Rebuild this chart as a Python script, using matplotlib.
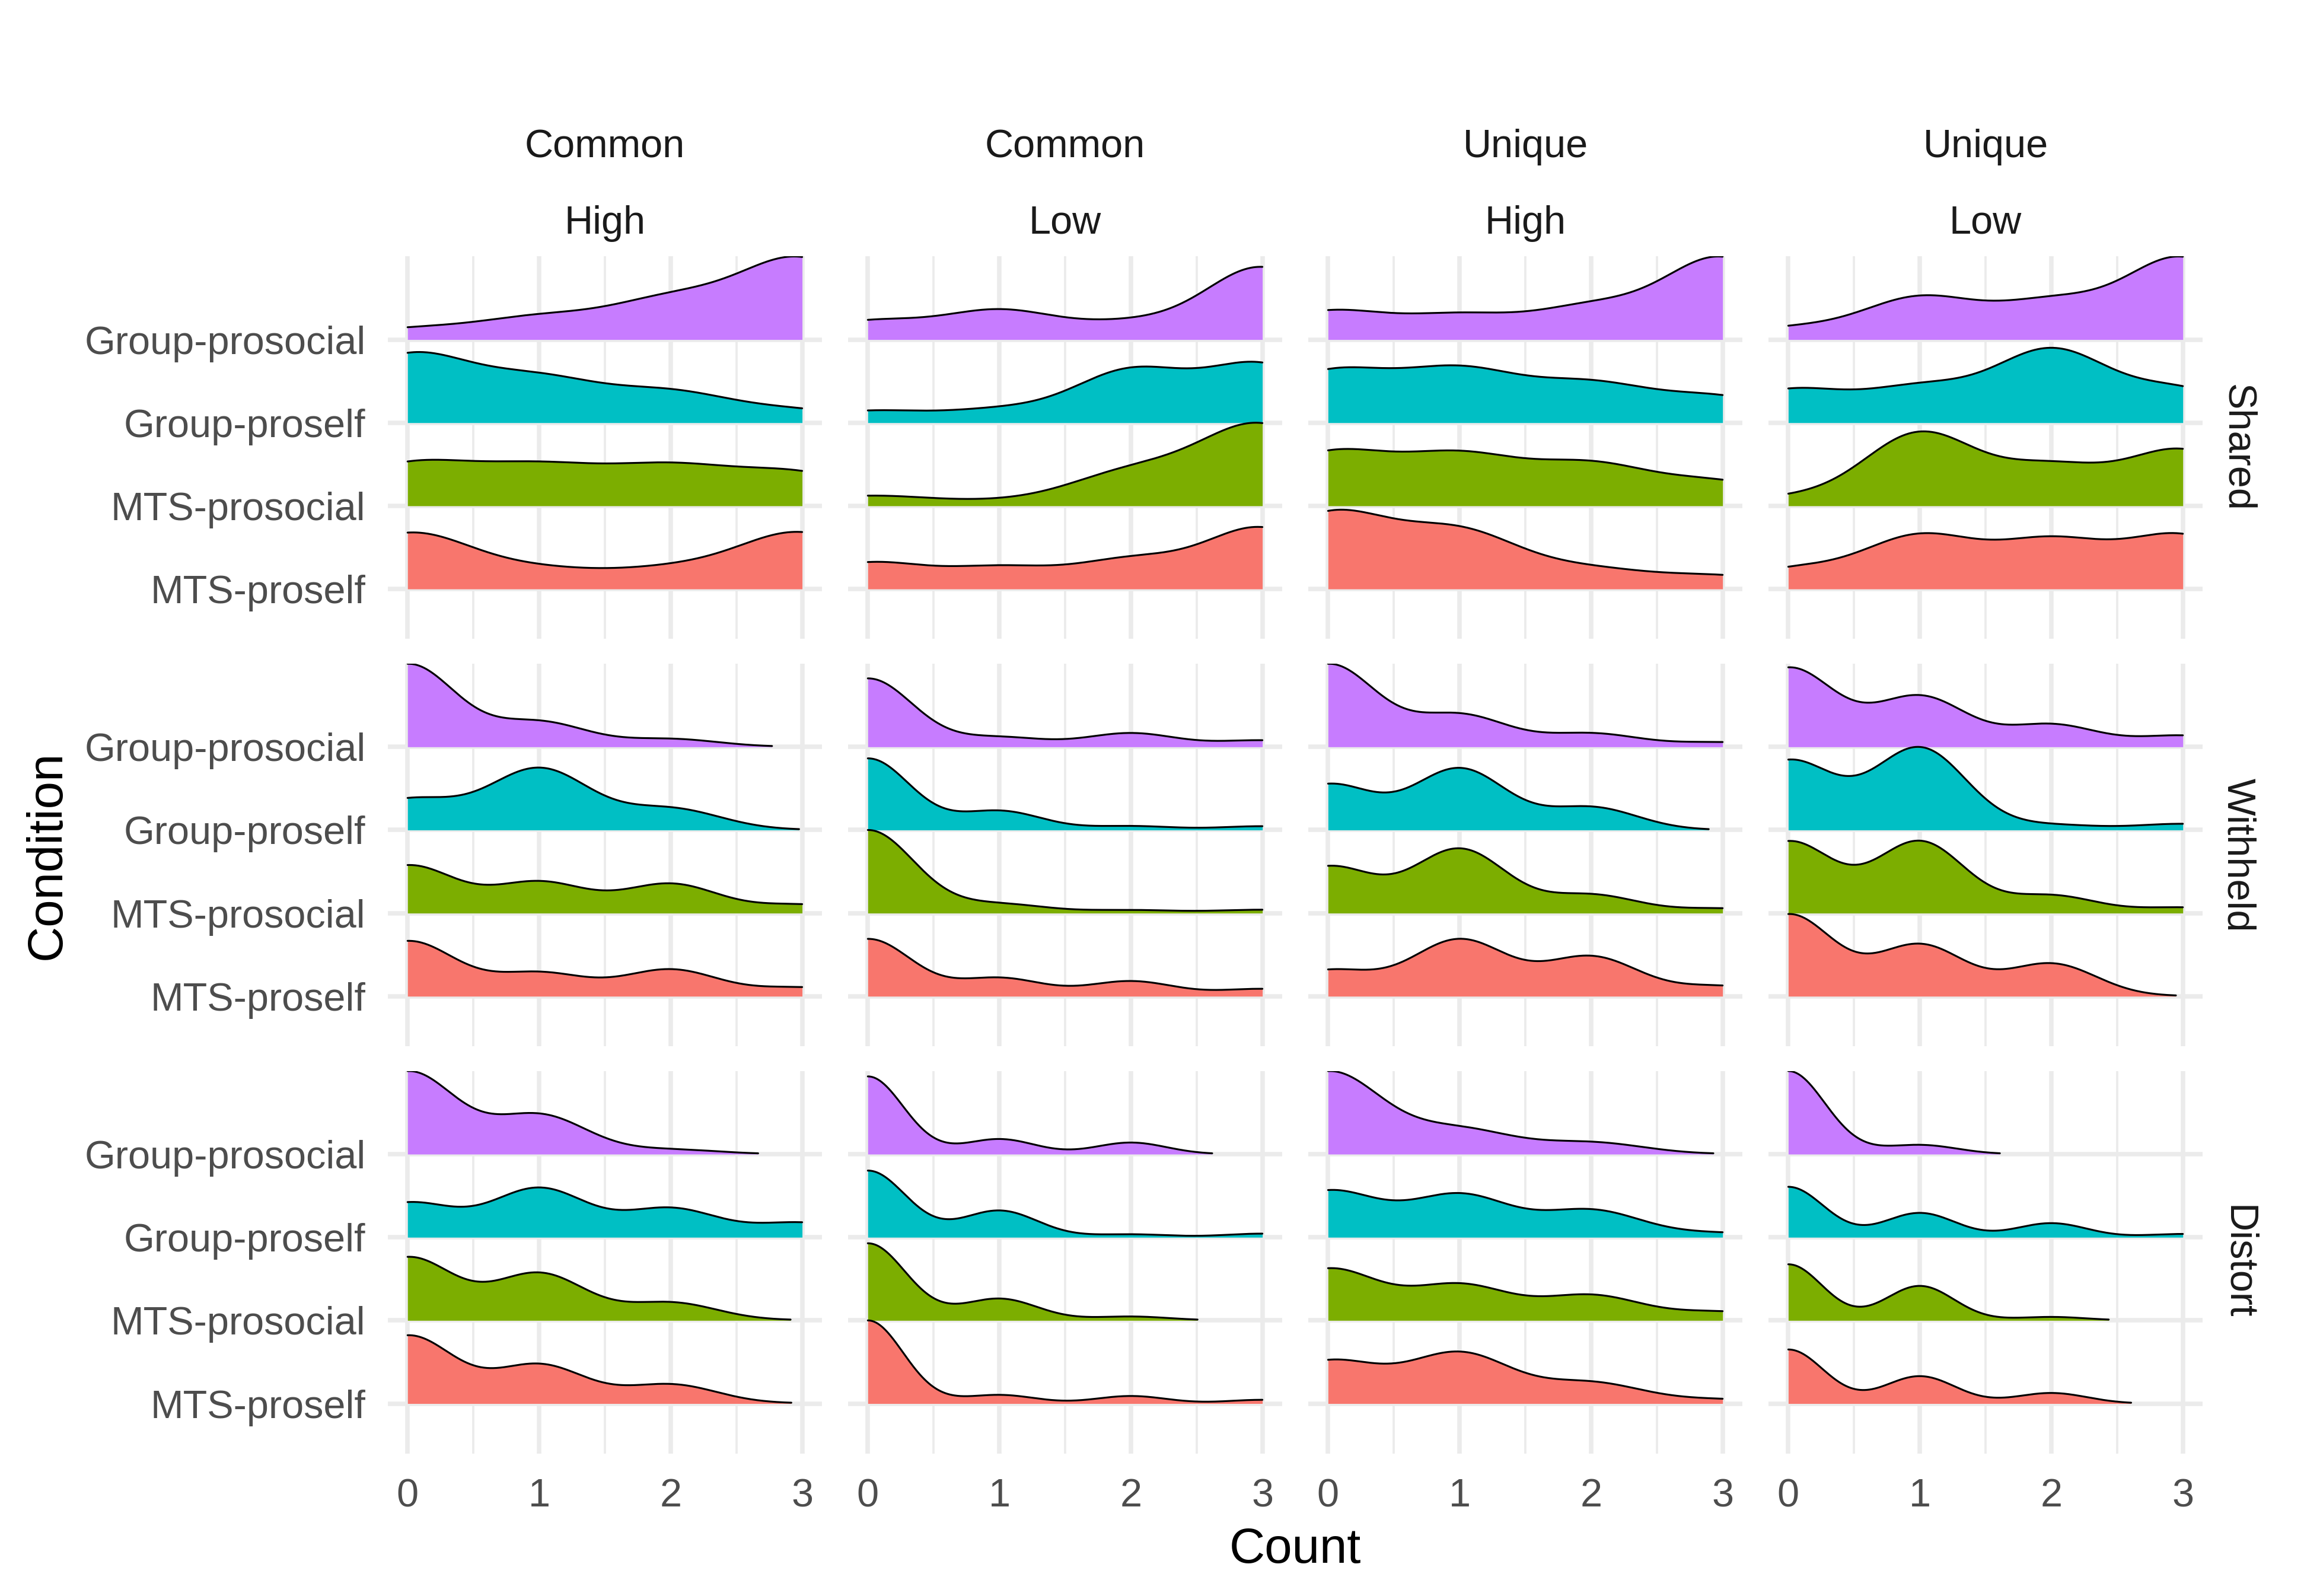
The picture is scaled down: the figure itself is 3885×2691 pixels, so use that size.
#!/usr/bin/env python3
"""
Ridgeline densities of Count by Condition, faceted by Cue/Load (columns)
and Information (rows). Writes out.png.
"""

import numpy as np
import matplotlib

matplotlib.use("Agg")
import matplotlib.pyplot as plt

conditions = ["MTS-proself", "MTS-prosocial", "Group-proself", "Group-prosocial"]
colors = ["#F8766D", "#7CAE00", "#00BFC4", "#C77CFF"]
col_top = ["Common", "Common", "Unique", "Unique"]
col_bottom = ["High", "Low", "High", "Low"]
row_labels = ["Shared", "Withheld", "Distort"]
count_ticks = [0, 1, 2, 3]

# density weight at Count = 0,1,2,3 for each column facet, one row per condition
shared_weights = [
    [[0.652, 0.203, 0.211, 0.658], [0.479, 0.420, 0.422, 0.366],
     [0.787, 0.483, 0.341, 0.137], [0.122, 0.249, 0.446, 0.943]],
    [[0.308, 0.244, 0.333, 0.724], [0.118, 0.045, 0.388, 0.957],
     [0.138, 0.148, 0.611, 0.685], [0.215, 0.341, 0.186, 0.864]],
    [[0.869, 0.647, 0.213, 0.148], [0.608, 0.557, 0.460, 0.268],
     [0.584, 0.586, 0.429, 0.289], [0.331, 0.271, 0.365, 0.960]],
    [[0.225, 0.613, 0.548, 0.624], [0.095, 0.857, 0.447, 0.656],
     [0.383, 0.397, 0.844, 0.381], [0.133, 0.490, 0.425, 0.963]],
]
withheld_weights = [
    [[0.661, 0.277, 0.319, 0.104], [0.571, 0.369, 0.349, 0.101],
     [0.363, 0.732, 0.253, 0.001], [0.994, 0.297, 0.094, 0.001]],
    [[0.697, 0.221, 0.183, 0.089], [1.011, 0.110, 0.037, 0.041],
     [0.871, 0.232, 0.048, 0.046], [0.833, 0.116, 0.167, 0.079]],
    [[0.309, 0.676, 0.472, 0.120], [0.557, 0.768, 0.219, 0.056],
     [0.546, 0.735, 0.272, 0.000], [0.993, 0.383, 0.160, 0.055]],
    [[0.970, 0.608, 0.386, 0.002], [0.847, 0.848, 0.208, 0.067],
     [0.821, 0.973, 0.060, 0.073], [0.936, 0.596, 0.264, 0.133]],
]
distort_weights = [
    [[0.806, 0.459, 0.226, 0.003], [0.748, 0.556, 0.211, 0.003],
     [0.407, 0.578, 0.340, 0.172], [0.980, 0.464, 0.055, 0.000]],
    [[1.003, 0.104, 0.091, 0.045], [0.930, 0.262, 0.047, 0.000],
     [0.804, 0.322, 0.036, 0.044], [0.938, 0.182, 0.140, 0.000]],
    [[0.499, 0.592, 0.243, 0.048], [0.609, 0.416, 0.294, 0.101],
     [0.547, 0.500, 0.319, 0.050], [0.977, 0.288, 0.137, 0.001]],
    [[0.650, 0.329, 0.127, 0.000], [0.675, 0.415, 0.042, 0.000],
     [0.607, 0.293, 0.170, 0.040], [1.000, 0.111, 0.000, 0.000]],
]

# kernel bandwidths, same layout (column facet x condition)
shared_bw = [[0.48, 0.49, 0.47, 0.47], [0.43, 0.47, 0.43, 0.43],
             [0.46, 0.46, 0.46, 0.44], [0.43, 0.42, 0.43, 0.43]]
withheld_bw = [[0.36, 0.36, 0.38, 0.36], [0.33, 0.35, 0.32, 0.34],
               [0.36, 0.35, 0.35, 0.36], [0.34, 0.34, 0.35, 0.35]]
distort_bw = [[0.35, 0.35, 0.36, 0.36], [0.27, 0.29, 0.29, 0.27],
              [0.39, 0.38, 0.38, 0.40], [0.27, 0.26, 0.27, 0.28]]

REL_MIN_HEIGHT = 0.01
GRID = "#EBEBEB"
W, H = 3885, 2691
FONT = ["Liberation Sans", "DejaVu Sans"]


def ridge(x, weights, bw):
    k = np.asarray(count_ticks, float)
    return (np.asarray(weights)[None, :] * np.exp(-((x[:, None] - k[None, :]) ** 2) / (2 * bw * bw))).sum(axis=1)


def draw_panel(ax, weights, bws):
    x = np.linspace(0, 3, 512)
    dens = [ridge(x, w, b) for w, b in zip(weights, bws)]
    top = max(d.max() for d in dens)
    for i in reversed(range(len(conditions))):
        d = dens[i] / top
        # trim low tails at the ends, like rel_min_height
        keep = np.where(d >= REL_MIN_HEIGHT)[0]
        xs = x[keep[0]:keep[-1] + 1]
        ys = d[keep[0]:keep[-1] + 1]
        base = i + 1
        z = 10 + (len(conditions) - i) * 2
        ax.fill_between(xs, base, base + ys, color=colors[i], lw=0, zorder=z)
        ax.plot(xs, base + ys, color="black", lw=0.75, solid_capstyle="round", zorder=z + 1)

    ax.set_xlim(-0.15, 3.15)
    ax.set_ylim(0.4, 5.0)
    ax.set_xticks(count_ticks)
    ax.set_xticks([0.5, 1.5, 2.5], minor=True)
    ax.set_yticks(range(1, len(conditions) + 1))
    ax.grid(which="major", color=GRID, lw=1.8, zorder=0)
    ax.grid(which="minor", axis="x", color=GRID, lw=0.9, zorder=0)
    ax.set_axisbelow(True)
    for s in ax.spines.values():
        s.set_visible(False)
    ax.tick_params(which="both", length=0)


def main():
    plt.rcParams["font.family"] = FONT
    fig, axes = plt.subplots(3, 4, figsize=(W / 300, H / 300), dpi=300)
    fig.subplots_adjust(left=654 / W, right=3714 / W, top=1 - 432.4 / H,
                        bottom=1 - 2450.6 / H, wspace=0.0604, hspace=0.0651)

    rows = [(shared_weights, shared_bw), (withheld_weights, withheld_bw),
            (distort_weights, distort_bw)]
    for r, (wts, bws) in enumerate(rows):
        for c in range(4):
            ax = axes[r, c]
            draw_panel(ax, wts[c], bws[c])
            if c == 0:
                ax.set_yticklabels(conditions, fontsize=16, color="#4D4D4D")
                ax.tick_params(axis="y", pad=9)
            else:
                ax.set_yticklabels([])
            if r == 2:
                ax.set_xticklabels([str(t) for t in count_ticks], fontsize=16, color="#4D4D4D")
                ax.tick_params(axis="x", pad=10)
            else:
                ax.set_xticklabels([])

    # strip labels
    for c in range(4):
        pos = axes[0, c].get_position()
        cx = (pos.x0 + pos.x1) / 2
        fig.text(cx, 1 - 265 / H, col_top[c], ha="center", va="baseline", fontsize=16, color="#1A1A1A")
        fig.text(cx, 1 - 394 / H, col_bottom[c], ha="center", va="baseline", fontsize=16, color="#1A1A1A")
    for r in range(3):
        pos = axes[r, 3].get_position()
        fig.text(3773 / W, (pos.y0 + pos.y1) / 2, row_labels[r], rotation=-90,
                 ha="center", va="center", fontsize=16, color="#1A1A1A")

    fig.text(80 / W, 1 - 1441.5 / H, "Condition", rotation=90, ha="center", va="center",
             fontsize=20, color="black")
    fig.text(2184 / W, 1 - 2635 / H, "Count", ha="center", va="baseline", fontsize=20, color="black")

    fig.savefig("out.png", dpi=300, facecolor="white")


if __name__ == "__main__":
    main()
